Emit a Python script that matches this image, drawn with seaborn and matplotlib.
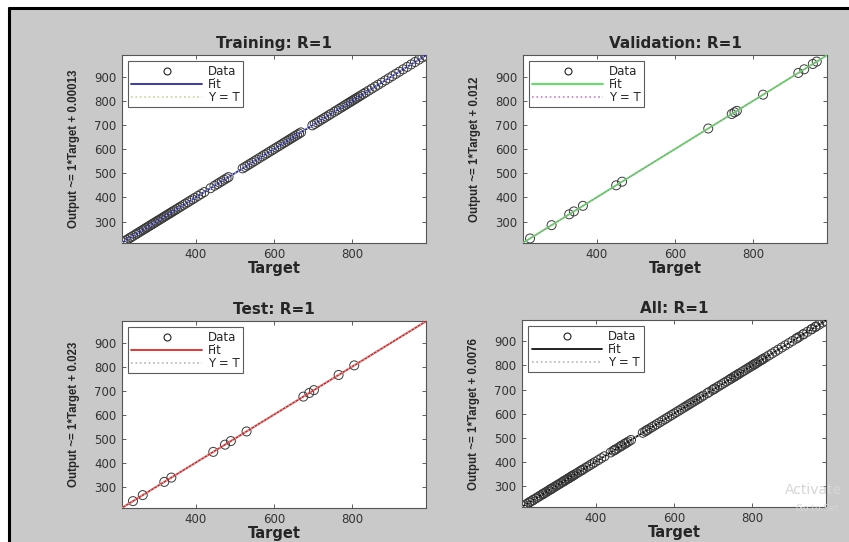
import numpy as np
import pandas as pd
import matplotlib
matplotlib.use("Agg")
import matplotlib.pyplot as plt
from matplotlib.lines import Line2D
from matplotlib.patches import Rectangle
import seaborn as sns

# targets (outputs equal targets, R=1)
train_target = [214, 219, 224, 230, 235, 240, 246, 250, 255, 259, 264, 268, 272, 276, 280, 284,
                288, 291, 295, 299, 303, 307, 311, 315, 319, 323, 327, 331, 335, 339, 343, 347,
                352, 357, 362, 368, 374, 380, 386, 392, 398, 406, 414, 422, 438, 448, 455, 461,
                467, 473, 479, 484, 520, 526, 532, 538, 544, 550, 556, 563, 570, 576, 582, 588,
                594, 600, 606, 612, 618, 624, 629, 634, 639, 644, 649, 654, 659, 664, 669, 698,
                704, 710, 716, 722, 728, 734, 740, 746, 754, 760, 766, 772, 777, 782, 787, 792,
                796, 800, 804, 808, 812, 817, 822, 828, 834, 842, 850, 858, 866, 875, 884, 893,
                902, 911, 920, 930, 940, 950, 960, 970, 979, 986]
val_target = [230, 285, 330, 342, 365, 450, 465, 685, 745, 752, 758, 825, 915, 930, 952, 962]
test_target = [240, 265, 320, 338, 445, 475, 490, 530, 675, 690, 702, 765, 805]

panel_titles = ["Training: R=1", "Validation: R=1", "Test: R=1", "All: R=1"]
fit_intercepts = ["0.00013", "0.012", "0.023", "0.0076"]
fit_colors = ["#2a2aa8", "#4fe04f", "#e02525", "#111111"]
yt_colors = ["#c9d29a", "#c77fc7", "#b5b5b5", "#b5b5b5"]
x_ticks = [400, 600, 800]
y_ticks = [300, 400, 500, 600, 700, 800, 900]
lims = (212, 988)

all_target = train_target + val_target + test_target
sets = [train_target, val_target, test_target, all_target]

sns.set_style("ticks")
plt.rcParams["font.family"] = ["DejaVu Sans"]
bg = "#c9c9c9"

fig = plt.figure(figsize=(8.49, 5.42), dpi=100, facecolor="white")
fig.patches.append(Rectangle((9 / 849, 0), 1, 1 - 8 / 542, transform=fig.transFigure,
                             facecolor=bg, edgecolor="none", zorder=-10))
fig.lines.append(Line2D([9 / 849, 1], [1 - 8 / 542] * 2, transform=fig.transFigure,
                        color="black", lw=2.2))
fig.lines.append(Line2D([9 / 849] * 2, [0, 1 - 8 / 542], transform=fig.transFigure,
                        color="black", lw=2.2))

positions = [
    [0.1437, 0.552, 0.358, 0.346],
    [0.616, 0.552, 0.358, 0.346],
    [0.1437, 0.063, 0.358, 0.344],
    [0.615, 0.065, 0.358, 0.344],
]

for i, tgt in enumerate(sets):
    ax = fig.add_axes(positions[i])
    ax.set_facecolor("white")
    df = pd.DataFrame({"Target": tgt, "Output": tgt})
    sns.scatterplot(data=df, x="Target", y="Output", ax=ax, marker="o", s=42,
                    facecolors="none", edgecolor="#3a3a3a", linewidth=0.7, zorder=2)
    line = pd.DataFrame({"x": list(lims), "y": list(lims)})
    sns.lineplot(data=line, x="x", y="y", ax=ax, color=fit_colors[i], lw=1.3, zorder=3)
    sns.lineplot(data=line, x="x", y="y", ax=ax, color=yt_colors[i], lw=1.0,
                 linestyle=":", zorder=4)
    ax.set_xlim(*lims)
    ax.set_ylim(*lims)
    ax.set_xticks(x_ticks)
    ax.set_yticks(y_ticks)
    ax.tick_params(direction="in", top=True, right=True, length=3, width=0.6,
                   labelsize=8.5, colors="#444444", labelcolor="#333333", pad=4)
    for sp in ax.spines.values():
        sp.set_color("#555555")
        sp.set_linewidth(0.8)
    ax.set_title(panel_titles[i], fontsize=11, fontweight="bold", pad=5)
    ax.set_xlabel("Target", fontsize=10.5, fontweight="bold", labelpad=0)
    ax.set_ylabel(f"Output ~= 1*Target + {fit_intercepts[i]}",
                  family=["Liberation Sans", "DejaVu Sans"], fontsize=8.3,
                  fontweight="bold", labelpad=10)
    handles = [
        Line2D([], [], marker="o", ls="none", mfc="none", mec="#222222", ms=5, mew=0.8),
        Line2D([], [], color=fit_colors[i], lw=1.3),
        Line2D([], [], color=yt_colors[i], lw=1.2, ls=":"),
    ]
    leg = ax.legend(handles, ["Data", "Fit", "Y = T"], loc="upper left", fontsize=8.5,
                    frameon=True, fancybox=False, handlelength=6, borderpad=0.3,
                    labelspacing=0.0, handletextpad=0.5, borderaxespad=0.5)
    leg.get_frame().set_edgecolor("#333333")
    leg.get_frame().set_linewidth(0.8)

fig.text(0.925, 0.088, "Activate", color="#d6d6d6", fontsize=10)
fig.text(0.938, 0.058, "Go to Set", color="#d6d6d6", fontsize=6.5)

fig.savefig("out.png", dpi=100, facecolor="white")
